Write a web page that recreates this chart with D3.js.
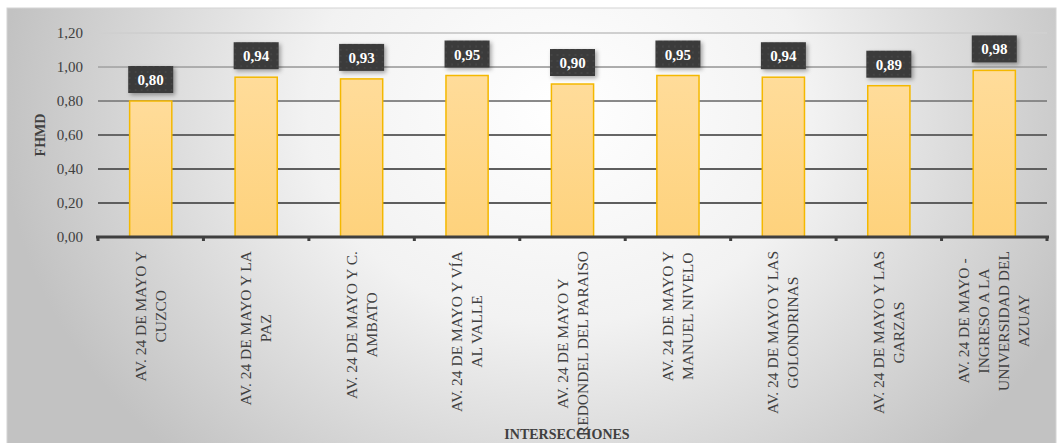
<!DOCTYPE html>
<html>
<head>
<meta charset="utf-8">
<script src="https://cdn.jsdelivr.net/npm/d3@7"></script>
<style>
  body { margin: 0; background: #fff; }
  svg { display: block; }
  text { font-family: "Liberation Serif", "DejaVu Serif", serif; }
</style>
</head>
<body>
<svg width="1063" height="443"></svg>
<script>
const categories = [
  ["AV. 24 DE MAYO Y", "CUZCO"],
  ["AV. 24 DE MAYO Y LA", "PAZ"],
  ["AV. 24 DE MAYO Y C.", "AMBATO"],
  ["AV. 24 DE MAYO Y VÍA", "AL VALLE"],
  ["AV. 24 DE MAYO Y", "REDONDEL DEL PARAISO"],
  ["AV. 24 DE MAYO Y", "MANUEL NIVELO"],
  ["AV. 24 DE MAYO Y LAS", "GOLONDRINAS"],
  ["AV. 24 DE MAYO Y LAS", "GARZAS"],
  ["AV. 24 DE MAYO -", "INGRESO A LA", "UNIVERSIDAD DEL", "AZUAY"]
]
const values = [0.80, 0.94, 0.93, 0.95, 0.90, 0.95, 0.94, 0.89, 0.98]
const yTicks = [0, 0.2, 0.4, 0.6, 0.8, 1.0, 1.2]
const yAxisLabel = "FHMD"
const xAxisLabel = "INTERSECCIONES"

const svg = d3.select("svg")
const width = +svg.attr("width")
const height = +svg.attr("height")
const margin = { top: 33, right: 16, bottom: 206, left: 98 }
const innerWidth = width - margin.left - margin.right
const innerHeight = height - margin.top - margin.bottom
const comma = (d) => d3.format(".2f")(d).replace(".", ",")
const serif = "Liberation Serif"

const defs = svg.append("defs")

// chart area background
const bg = defs.append("radialGradient")
  .attr("id", "bg")
  .attr("gradientUnits", "userSpaceOnUse")
  .attr("cx", 560).attr("cy", 110).attr("r", 560)
  .attr("gradientTransform", "translate(560,110) scale(1,0.85) translate(-560,-110)")
bg.append("stop").attr("offset", 0).attr("stop-color", "#ffffff")
bg.append("stop").attr("offset", 0.45).attr("stop-color", "#f2f2f2")
bg.append("stop").attr("offset", 1).attr("stop-color", "#c2c2c2")

const barGrad = defs.append("linearGradient")
  .attr("id", "bar").attr("x1", 0).attr("y1", 0).attr("x2", 0).attr("y2", 1)
barGrad.append("stop").attr("offset", 0).attr("stop-color", "#ffdc9a")
barGrad.append("stop").attr("offset", 1).attr("stop-color", "#fed27c")

const gridGrad = defs.append("linearGradient")
  .attr("id", "grid").attr("gradientUnits", "userSpaceOnUse")
  .attr("x1", 0).attr("y1", 0).attr("x2", 0).attr("y2", 110)
gridGrad.append("stop").attr("offset", 0).attr("stop-color", "#d0d0d0")
gridGrad.append("stop").attr("offset", 1).attr("stop-color", "#5e5e5e")

const pattern = defs.append("pattern")
  .attr("id", "dots").attr("patternUnits", "userSpaceOnUse")
  .attr("width", 6).attr("height", 6)
pattern.append("rect").attr("width", 6).attr("height", 6).attr("fill", "#3a3a3a")
pattern.append("circle").attr("cx", 3).attr("cy", 3).attr("r", 1).attr("fill", "#474747")

const shadow = defs.append("filter").attr("id", "shadow")
  .attr("x", "-30%").attr("y", "-30%").attr("width", "160%").attr("height", "160%")
shadow.append("feDropShadow")
  .attr("dx", 2).attr("dy", 2).attr("stdDeviation", 2)
  .attr("flood-color", "#000").attr("flood-opacity", 0.35)

svg.append("rect")
  .attr("x", 7).attr("y", 8)
  .attr("width", 1049).attr("height", 440)
  .attr("fill", "url(#bg)")
  .attr("stroke", "#d4d4d4")

const xScale = d3.scaleBand()
  .domain(d3.range(categories.length))
  .range([0, innerWidth])
  .paddingInner(0.6)
  .paddingOuter(0.3)

const yScale = d3.scaleLinear()
  .domain([0, 1.2])
  .range([innerHeight, 0])

const g = svg.append("g")
  .attr("transform", `translate(${margin.left},${margin.top})`)

// grid lines
g.append("g")
  .selectAll("line")
  .data(yTicks.filter((d) => d > 0))
  .join("line")
  .attr("x1", 0).attr("x2", innerWidth)
  .attr("y1", (d) => yScale(d)).attr("y2", (d) => yScale(d))
  .attr("stroke", "url(#grid)")
  .attr("stroke-width", 2)

// y axis
const yAxis = d3.axisLeft(yScale)
  .tickValues(yTicks)
  .tickSize(0)
  .tickPadding(15)
  .tickFormat(comma)
const yAxisG = g.append("g").call(yAxis)
  .attr("font-family", serif)
yAxisG.select(".domain").remove()
yAxisG.selectAll("text")
  .attr("fill", "#404040")
  .attr("font-size", 15)

svg.append("text")
  .attr("transform", `translate(45,${margin.top + innerHeight / 2}) rotate(-90)`)
  .attr("text-anchor", "middle")
  .attr("fill", "#404040")
  .attr("font-family", serif)
  .attr("font-size", 14)
  .attr("font-weight", "bold")
  .text(yAxisLabel)

// bars
g.append("g")
  .selectAll("rect")
  .data(values)
  .join("rect")
  .attr("x", (d, i) => xScale(i))
  .attr("y", (d) => yScale(d))
  .attr("width", xScale.bandwidth())
  .attr("height", (d) => innerHeight - yScale(d))
  .attr("fill", "url(#bar)")
  .attr("stroke", "#f4b800")
  .attr("stroke-width", 1.5)

// x axis line with tick marks at boundaries
const step = xScale.step()
const x0 = xScale(0) - xScale.paddingOuter() * step
g.append("line")
  .attr("x1", -2).attr("x2", innerWidth + 2)
  .attr("y1", innerHeight).attr("y2", innerHeight)
  .attr("stroke", "#3f3f3f").attr("stroke-width", 3)
g.append("g")
  .selectAll("rect")
  .data(d3.range(categories.length + 1))
  .join("rect")
  .attr("x", (i) => x0 + i * step - 1.5)
  .attr("y", innerHeight)
  .attr("width", 3).attr("height", 4)
  .attr("fill", "#3f3f3f")

// value labels
const labels = g.append("g")
  .selectAll("g")
  .data(values)
  .join("g")
  .attr("transform", (d, i) =>
    `translate(${xScale(i) + xScale.bandwidth() / 2},${yScale(d) - 8})`)
labels.append("rect")
  .attr("x", -22.5).attr("y", -27)
  .attr("width", 45).attr("height", 27)
  .attr("fill", "url(#dots)")
  .attr("filter", "url(#shadow)")
labels.append("text")
  .attr("y", -8)
  .attr("text-anchor", "middle")
  .attr("fill", "#fff")
  .attr("font-family", serif)
  .attr("font-size", 15)
  .attr("font-weight", "bold")
  .text(comma)

// category labels, rotated
const lineGap = 20
const labelTop = innerHeight + 14
const catG = g.append("g")
  .selectAll("g")
  .data(categories)
  .join("g")
  .attr("transform", (d, i) =>
    `translate(${xScale(i) + xScale.bandwidth() / 2},0)`)
catG.each(function (lines) {
  const sel = d3.select(this)
  const texts = sel.selectAll("text")
    .data(lines)
    .join("text")
    .attr("text-anchor", "middle")
    .attr("fill", "#404040")
    .attr("font-family", serif)
    .attr("font-size", 15.5)
    .text((d) => d)
  const maxW = d3.max(texts.nodes(), (n) => n.getComputedTextLength())
  const n = lines.length
  texts.attr("transform", (d, j) => {
    const dx = (j - (n - 1) / 2) * lineGap + 5
    return `translate(${dx},${labelTop + maxW / 2}) rotate(-90)`
  })
})

svg.append("text")
  .attr("x", 567).attr("y", 439)
  .attr("text-anchor", "middle")
  .attr("fill", "#404040")
  .attr("font-family", serif)
  .attr("font-size", 14)
  .attr("font-weight", "bold")
  .text(xAxisLabel)
</script>
</body>
</html>
